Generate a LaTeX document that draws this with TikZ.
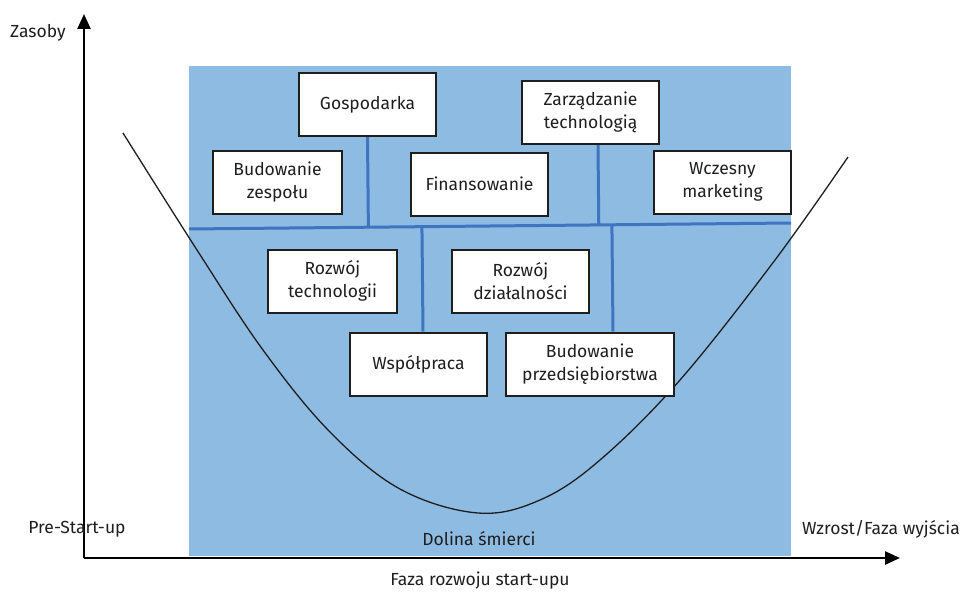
\documentclass[tikz,border=0pt]{standalone}
\usepackage{fontspec}
\setmainfont{Fira Sans}
\usetikzlibrary{arrows.meta,calc}
\definecolor{bgblue}{HTML}{8DBBE1}
\definecolor{lineblue}{HTML}{3F74C0}
\definecolor{ink}{HTML}{1E1E1E}
\tikzset{
  box/.style={draw=ink, line width=2pt, fill=white, align=center, text=ink,
    inner sep=0pt, minimum height=63pt, font=\fontsize{17.5}{23}\selectfont},
  branch/.style={draw=lineblue, line width=3pt},
  axis/.style={draw=black, line width=2.5pt, -{Triangle[length=15pt,width=13pt]}},
  lbl/.style={text=ink, font=\fontsize{17.5}{23}\selectfont, inner sep=0pt},
}
\begin{document}
\begin{tikzpicture}[x=1pt,y=-1pt]
\useasboundingbox (0,0) rectangle (967,594);
% background panel
\fill[bgblue] (189,66) rectangle (791,556);
% main branch
\coordinate (L) at (189,229);
\coordinate (R) at (791,223);
% boxes (placed first for anchors, drawn later)
\path
  node[box, minimum width=137pt] (gosp) at (367.5,104.5) {Gospodarka}
  node[box, minimum width=129pt] (zesp) at (277.5,182) {Budowanie\\zespołu}
  node[box, minimum width=137pt] (fin)  at (479.5,184) {Finansowanie}
  node[box, minimum width=137pt] (zarz) at (590.5,112.5) {Zarządzanie\\technologią}
  node[box, minimum width=137pt] (wcz)  at (722.5,182) {Wczesny\\marketing}
  node[box, minimum width=129pt] (rtech) at (332.5,281) {Rozwój\\technologii}
  node[box, minimum width=137pt] (rdz)  at (520.5,281) {Rozwój\\działalności}
  node[box, minimum width=137pt] (wsp)  at (418.5,364) {Współpraca}
  node[box, minimum width=168pt] (bprz) at (590,364) {Budowanie\\przedsiębiorstwa};
% branches
\draw[branch] (L) -- (R);
\draw[branch] (gosp.south) -- ($(L)!(gosp.south)!(R)$);
\draw[branch] (zarz.south -| 598,0) -- ($(L)!(598,144)!(R)$);
\draw[branch] (wsp.north -| 423,0) -- ($(L)!(423,332)!(R)$);
\draw[branch] (bprz.north -| 613,0) -- ($(L)!(613,332)!(R)$);
% valley curve
\draw[ink, line width=1.3pt] plot[smooth, tension=0.6] coordinates {
  (123,133) (197,250) (263,350) (330,432) (400,489) (478,513)
  (540,500) (600,460) (680,380) (775,260) (848,157)};
% boxes on top
\foreach \n/\t/\w in {gosp/Gospodarka/137, zesp/{Budowanie\\zespołu}/129,
  fin/Finansowanie/137, zarz/{Zarządzanie\\technologią}/137,
  wcz/{Wczesny\\marketing}/137, rtech/{Rozwój\\technologii}/129,
  rdz/{Rozwój\\działalności}/137, wsp/Współpraca/137,
  bprz/{Budowanie\\przedsiębiorstwa}/168}
  \node[box, minimum width=\w pt] at (\n.center) {\t};
% axes
\coordinate (O) at (84,558);
\coordinate (ytop) at (84,14);
\coordinate (xend) at (900,558);
\draw[axis] (O) -- (ytop);
\draw[axis] (O) -- (xend);
% labels
\node[lbl] (zas) at (38,33) {Zasoby};
\node[lbl] (pre) at (77,529) {Pre-Start-up};
\node[lbl] (dol) at (479,539) {Dolina śmierci};
\node[lbl] (wzr) at (881,529) {Wzrost/Faza wyjścia};
\node[lbl] (faz) at (480,581) {Faza rozwoju start-upu};
\end{tikzpicture}
\end{document}
